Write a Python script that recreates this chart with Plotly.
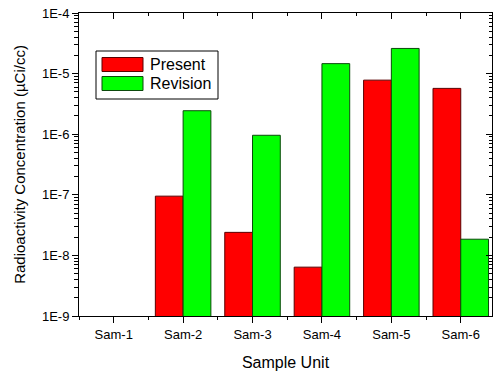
import plotly.graph_objects as go

categories = ["Sam-1", "Sam-2", "Sam-3", "Sam-4", "Sam-5", "Sam-6"]
present = [None, 9.5e-8, 2.4e-8, 6.4e-9, 7.8e-6, 5.7e-6]
revision = [None, 2.44e-6, 9.6e-7, 1.46e-5, 2.6e-5, 1.85e-8]
ytick_vals = [1e-9, 1e-8, 1e-7, 1e-6, 1e-5, 1e-4]
ytick_text = ["1E-9", "1E-8", "1E-7", "1E-6", "1E-5", "1E-4"]
ylabel = "Radioactivity Concentration (µCi/cc)"
xlabel = "Sample Unit"

xpos = list(range(1, len(categories) + 1))
minor_y = [m * 10.0 ** e for e in range(-9, -4) for m in range(2, 10)]
minor_x = [p + 0.5 for p in range(0, len(categories) + 1)]

FONT = "Liberation Sans, Arial, sans-serif"
RED = "#ff0000"
GREEN = "#00ff00"

fig = go.Figure()
fig.add_trace(go.Bar(x=xpos, y=present, name="Present", marker=dict(color=RED, line=dict(color="#5a0000", width=1))))
fig.add_trace(go.Bar(x=xpos, y=revision, name="Revision", marker=dict(color=GREEN, line=dict(color="#0b4a0b", width=1))))
# empty trace to activate the mirrored (inward-tick) axes
fig.add_trace(go.Scatter(x=[], y=[], xaxis="x2", yaxis="y2", showlegend=False, hoverinfo="skip"))

xr = [0.5, 6.45]
yr = [-9, -4]

fig.update_layout(
    width=496, height=378,
    margin=dict(l=79, r=4, t=13, b=62),
    paper_bgcolor="white", plot_bgcolor="white",
    barmode="group", bargap=0.2, bargroupgap=0,
    showlegend=False,
    font=dict(family=FONT, color="black", size=13),
    xaxis=dict(
        range=xr, tickvals=xpos, ticktext=categories,
        showline=True, linecolor="black", linewidth=1, mirror=False,
        ticks="outside", ticklen=6, tickcolor="black", tickwidth=1,
        minor=dict(tickmode="array", tickvals=minor_x, ticks="outside", ticklen=3, tickcolor="black", showgrid=False),
        showgrid=False, zeroline=False,
        tickfont=dict(size=13),
        title=dict(text=xlabel, font=dict(size=16), standoff=16),
    ),
    yaxis=dict(
        type="log", range=yr, tickvals=ytick_vals, ticktext=ytick_text,
        showline=True, linecolor="black", linewidth=1,
        ticks="outside", ticklen=6, tickcolor="black", tickwidth=1,
        minor=dict(tickmode="array", tickvals=minor_y, ticks="outside", ticklen=4, tickcolor="black", showgrid=False),
        showgrid=False, zeroline=False,
        tickfont=dict(size=13),
        title=dict(text=ylabel, font=dict(size=15), standoff=12),
    ),
    xaxis2=dict(
        overlaying="x", side="top", anchor="y", range=xr, tickvals=xpos,
        showticklabels=False, showline=True, linecolor="black", linewidth=1,
        ticks="inside", ticklen=6, tickcolor="black",
        minor=dict(tickmode="array", tickvals=minor_x, ticks="inside", ticklen=3, tickcolor="black", showgrid=False),
        showgrid=False, zeroline=False,
    ),
    yaxis2=dict(
        overlaying="y", side="right", anchor="x", type="log", range=yr, tickvals=ytick_vals,
        showticklabels=False, showline=True, linecolor="black", linewidth=1,
        ticks="inside", ticklen=6, tickcolor="black",
        minor=dict(tickmode="array", tickvals=minor_y, ticks="inside", ticklen=3, tickcolor="black", showgrid=False),
        showgrid=False, zeroline=False,
    ),
)

# legend box drawn manually (paper coordinates)
pw = 496 - 79 - 4
ph = 378 - 13 - 62
def px(x):
    return (x - 79) / pw
def py(y):
    return 1 - (y - 13) / ph

fig.add_shape(type="rect", xref="paper", yref="paper", x0=px(96), x1=px(218), y0=py(99), y1=py(51),
              line=dict(color="black", width=1), fillcolor="white")
for (label, col, lc, yc) in [("Present", RED, "#5a0000", 64.5), ("Revision", GREEN, "#0b4a0b", 83.5)]:
    fig.add_shape(type="rect", xref="paper", yref="paper", x0=px(102), x1=px(143), y0=py(yc + 7), y1=py(yc - 7),
                  line=dict(color=lc, width=1), fillcolor=col)
    fig.add_annotation(xref="paper", yref="paper", x=px(148), y=py(yc), text=label, showarrow=False,
                       xanchor="left", yanchor="middle", font=dict(size=16, family=FONT, color="black"))

fig.write_html("out.html")
